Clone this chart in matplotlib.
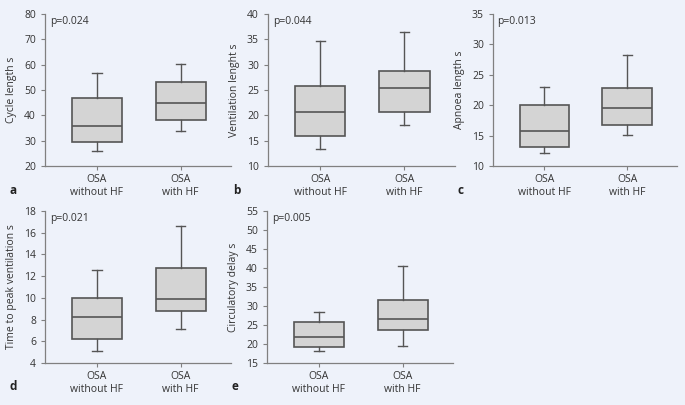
import matplotlib
matplotlib.use("Agg")
import matplotlib.pyplot as plt

plt.rcParams['font.family'] = ['Open Sans', 'DejaVu Sans']

groups = ["OSA\nwithout HF", "OSA\nwith HF"]

# each row: [whislo, q1, med, q3, whishi] for (without HF, with HF)
cycle = [[26.1, 29.3, 35.9, 47.0, 56.6], [33.8, 38.2, 44.7, 53.0, 60.1]]
vent = [[13.4, 15.9, 20.7, 25.7, 34.7], [18.0, 20.7, 25.3, 28.7, 36.4]]
apnoea = [[12.1, 13.2, 15.8, 20.1, 23.0], [15.1, 16.7, 19.6, 22.8, 28.2]]
ttp = [[5.1, 6.2, 8.2, 10.0, 12.6], [7.1, 8.8, 9.86, 12.75, 16.6]]
circ = [[18.1, 19.2, 21.8, 25.7, 28.5], [19.5, 23.6, 26.7, 31.7, 40.6]]

panels = [
    # data, ylabel, p text, letter, ylim, ystep, rect (px: left, top, right, bottom)
    (cycle, "Cycle length s", "p=0.024", "a", (20, 80), 10, (45, 14, 231, 166)),
    (vent, "Ventilation lenght s", "p=0.044", "b", (10, 40), 5, (268, 14, 455, 166)),
    (apnoea, "Apnoea length s", "p=0.013", "c", (10, 35), 5, (493, 14, 677, 166)),
    (ttp, "Time to peak ventilation s", "p=0.021", "d", (4, 18), 2, (45, 211, 231, 363)),
    (circ, "Circulatory delay s", "p=0.005", "e", (15, 55), 5, (267, 211, 453, 363)),
]

W, H = 685, 405
bg = "#eef2fa"
fig = plt.figure(figsize=(W / 100, H / 100), dpi=100, facecolor=bg)

for data, ylab, ptxt, letter, ylim, step, (l, t, r, b) in panels:
    ax = fig.add_axes([l / W, 1 - b / H, (r - l) / W, (b - t) / H])
    ax.set_facecolor(bg)
    stats = []
    for vals, name in zip(data, groups):
        lo, q1, med, q3, hi = vals
        stats.append(dict(whislo=lo, q1=q1, med=med, q3=q3, whishi=hi, label=name, fliers=[]))
    ec = "#555555"
    ax.bxp(stats, positions=[1, 2], widths=0.6, capwidths=0.11, patch_artist=True,
           showfliers=False,
           boxprops=dict(facecolor="#d4d4d4", edgecolor=ec, linewidth=1.2),
           medianprops=dict(color=ec, linewidth=1.2),
           whiskerprops=dict(color=ec, linewidth=1.0),
           capprops=dict(color=ec, linewidth=1.0))
    ax.set_xlim(0.38, 2.6)
    ax.set_ylim(*ylim)
    ax.set_yticks(range(ylim[0], ylim[1] + 1, step))
    for s in ["top", "right"]:
        ax.spines[s].set_visible(False)
    for s in ["left", "bottom"]:
        ax.spines[s].set_color("#808080")
        ax.spines[s].set_linewidth(0.9)
    ax.tick_params(colors="#808080", labelcolor="#333333", labelsize=7.5, length=3, width=0.8)
    ax.tick_params(axis="x", pad=3)
    ax.set_ylabel(ylab, fontsize=7.5, color="#333333", labelpad=5)
    ax.text(0.025, 0.985, ptxt, transform=ax.transAxes, fontsize=7.5, color="#333333",
            ha="left", va="top")
    fig.text((l - 35) / W, 1 - (b + 24) / H, letter, fontsize=8.5, color="#222222",
             fontweight="bold", ha="left", va="center")

fig.savefig("out.png", dpi=100, facecolor=bg)
